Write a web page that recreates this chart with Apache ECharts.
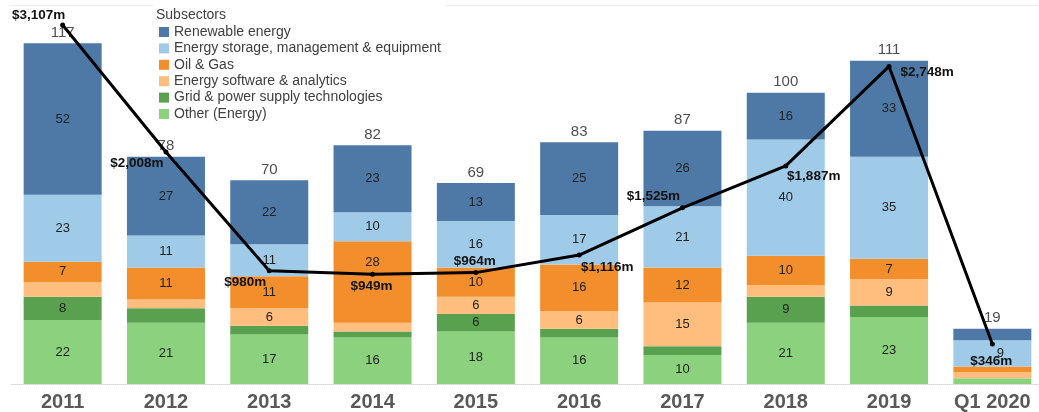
<!DOCTYPE html>
<html>
<head>
<meta charset="utf-8">
<title>Energy deals by subsector</title>
<script src="https://cdn.jsdelivr.net/npm/echarts@6/dist/echarts.min.js"></script>
<style>
  html, body { margin: 0; padding: 0; background: #fff; overflow: hidden; }
  #chart { width: 1050px; height: 412px; }
</style>
</head>
<body>
<div id="chart"></div>
<script>
// Deal counts per subsector and annual funding
const years = ['2011', '2012', '2013', '2014', '2015', '2016', '2017', '2018', '2019', 'Q1 2020'];
const renewable = [52, 27, 22, 23, 13, 25, 26, 16, 33, 4];
const storage   = [23, 11, 11, 10, 16, 17, 21, 40, 35, 9];
const oilGas    = [7, 11, 11, 28, 10, 16, 12, 10, 7, 2];
const software  = [5, 3, 6, 3, 6, 6, 15, 4, 9, 2];
const gridTech  = [8, 5, 3, 2, 6, 3, 3, 9, 4, 0];
const other     = [22, 21, 17, 16, 18, 16, 10, 21, 23, 2];
const dealCounts = [117, 78, 70, 82, 69, 83, 87, 100, 111, 19];
const funding = [3107, 2008, 980, 949, 964, 1116, 1525, 1887, 2748, 346];

// Placement tweaks for the funding labels (px, relative to each point)
const fundingLabelOffsets = [[-24, -10], [-29, 11], [-24, 12], [-1, 12], [-1, -11],
                             [28, 12], [-29, -11], [28, 10], [38, 6], [-1, 17]];

const FONT = "'Liberation Sans', Arial, sans-serif";

const stacks = [
  { name: 'Other (Energy)', data: other, color: '#8cd17d' },
  { name: 'Grid & power supply technologies', data: gridTech, color: '#59a14f' },
  { name: 'Energy software & analytics', data: software, color: '#ffbe7d' },
  { name: 'Oil & Gas', data: oilGas, color: '#f28e2b' },
  { name: 'Energy storage, management & equipment', data: storage, color: '#a0cbe8' },
  { name: 'Renewable energy', data: renewable, color: '#4e79a7' }
];

// Segment labels nudged away from the funding labels
const labelNudges = {
  'Oil & Gas|3': [0, -20],
  'Energy storage, management & equipment|9': [8, 0]
};

const barSeries = stacks.map(s => ({
  name: s.name,
  type: 'bar',
  stack: 'deals',
  barWidth: 78,
  itemStyle: { color: s.color },
  data: s.data.map((v, i) => {
    const nudge = labelNudges[s.name + '|' + i];
    return nudge ? { value: v, label: { offset: nudge } } : v;
  }),
  label: {
    show: true,
    position: 'inside',
    fontFamily: FONT,
    fontSize: 13,
    color: '#222',
    formatter: p => (p.value >= 6 ? String(p.value) : '')
  }
}));

const chart = echarts.init(document.getElementById('chart'), null, { renderer: 'canvas' });

chart.setOption({
  animation: false,
  backgroundColor: '#ffffff',
  textStyle: { fontFamily: FONT },
  grid: { left: 11, width: 1033, top: 20, bottom: 26, containLabel: false },
  legend: {
    data: ['Renewable energy', 'Energy storage, management & equipment', 'Oil & Gas',
           'Energy software & analytics', 'Grid & power supply technologies', 'Other (Energy)'],
    orient: 'vertical',
    left: 159,
    top: 24,
    padding: 0,
    itemWidth: 10,
    itemHeight: 10,
    itemGap: 0.4,
    icon: 'rect',
    selectedMode: false,
    textStyle: { fontFamily: FONT, fontSize: 14, color: '#404040', lineHeight: 16 }
  },
  graphic: [
    { type: 'text', left: 156, top: 8,
      style: { text: 'Subsectors', font: '14px ' + FONT, fill: '#404040' } },
    { type: 'line', shape: { x1: 10, y1: 5.5, x2: 153, y2: 5.5 },
      style: { stroke: '#eeeeee', lineWidth: 1 } },
    { type: 'line', shape: { x1: 445, y1: 5.5, x2: 1039, y2: 5.5 },
      style: { stroke: '#eeeeee', lineWidth: 1 } }
  ],
  xAxis: {
    type: 'category',
    data: years,
    axisTick: { show: false },
    axisLine: { show: true, lineStyle: { color: '#d4d4d4', width: 1, type: 'dotted' } },
    axisLabel: {
      margin: 8,
      fontFamily: FONT,
      fontSize: 20,
      fontWeight: 'bold',
      color: '#595959'
    }
  },
  yAxis: [
    { type: 'value', min: 0, max: 125, show: false, splitLine: { show: false } },
    { type: 'value', min: 0, max: 3150, show: false, splitLine: { show: false } }
  ],
  series: [
    ...barSeries,
    {
      name: 'Total deals',
      type: 'scatter',
      data: dealCounts,
      symbolSize: 0.1,
      itemStyle: { color: 'rgba(0,0,0,0)' },
      silent: true,
      z: 3,
      label: {
        show: true,
        position: 'top',
        distance: 3,
        fontFamily: FONT,
        fontSize: 15,
        color: '#222'
      }
    },
    {
      name: 'Funding',
      type: 'line',
      yAxisIndex: 1,
      z: 5,
      symbol: 'circle',
      symbolSize: 5,
      lineStyle: { color: '#000', width: 3 },
      itemStyle: { color: '#000' },
      data: funding.map((v, i) => ({
        value: v,
        label: { offset: fundingLabelOffsets[i] }
      })),
      label: {
        show: true,
        position: 'inside',
        fontFamily: FONT,
        fontSize: 13.5,
        fontWeight: 'bold',
        color: '#111',
        formatter: p => '$' + p.value.toLocaleString('en-US') + 'm'
      }
    }
  ]
});
</script>
</body>
</html>
